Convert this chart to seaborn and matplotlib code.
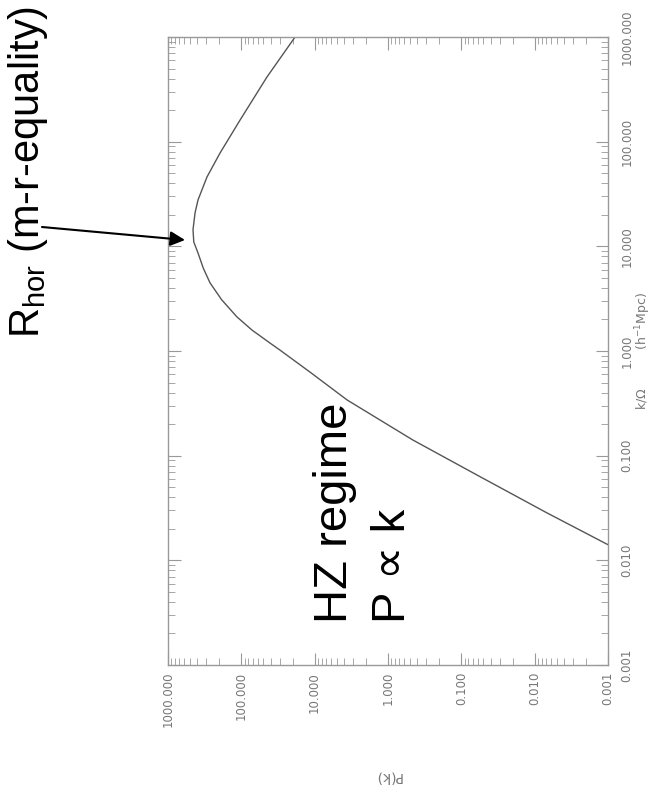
import matplotlib
matplotlib.use("Agg")
import matplotlib.pyplot as plt
import seaborn as sns
import pandas as pd

# ---- data ----
k_vals = [1000, 415, 161, 78, 46, 27.7, 20.8, 14.4, 11.0, 8.65, 6.18, 4.47,
          3.08, 2.12, 1.59, 1.19, 1.02, 0.618, 0.34, 0.141, 0.063, 0.0284,
          0.0141]
p_vals = [18.5, 44.7, 104, 195, 294, 390, 428, 456, 445, 390, 330, 267,
          185, 115, 72, 40.6, 29.7, 11.2, 3.6, 0.457, 0.0556, 0.0068,
          0.001]

p_ticks = [1000, 100, 10, 1, 0.1, 0.01, 0.001]
p_tick_labels = ["1000.000", "100.000", "10.000", "1.000", "0.100", "0.010", "0.001"]
k_ticks = [1000, 100, 10, 1, 0.1, 0.01, 0.001]
k_tick_labels = ["1000.000", "100.000", "10.000", "1.000", "0.100", "0.010", "0.001"]

df = pd.DataFrame({"k": k_vals, "P": p_vals})

sns.set_theme(style="white")
plt.rcParams["font.family"] = ["Liberation Sans", "DejaVu Sans"]
plt.rcParams["mathtext.default"] = "regular"

W, H = 654, 792
fig = plt.figure(figsize=(W / 100, H / 100), dpi=100)
ax = fig.add_axes([168 / W, 1 - 665 / H, 440 / W, 628 / H])

sns.lineplot(data=df, x="P", y="k", sort=False, estimator=None,
             color="#555555", lw=1.0, ax=ax)

ax.set_xscale("log")
ax.set_yscale("log")
ax.set_xlim(1000, 0.001)
ax.set_ylim(0.001, 1000)

for s in ax.spines.values():
    s.set_color("#999999")
    s.set_linewidth(1.0)

ax.set_xticks(p_ticks)
ax.set_xticklabels(p_tick_labels)
ax.set_yticks(k_ticks)
ax.set_yticklabels(k_tick_labels)

ax.yaxis.tick_right()
ax.tick_params(which="both", direction="in", top=True, bottom=True,
               left=True, right=True, colors="#999999",
               labelcolor="#777777", labelsize=8.5,
               labelbottom=True, labeltop=False,
               labelleft=False, labelright=True,
               labelfontfamily="DejaVu Sans")
ax.tick_params(which="major", length=9, width=0.8)
ax.tick_params(which="minor", length=5, width=0.6)
ax.tick_params(axis="x", pad=5)
ax.tick_params(axis="y", pad=9)

for lab in ax.get_xticklabels():
    lab.set_rotation(90)
    lab.set_va("top")
    lab.set_ha("center")
for lab in ax.get_yticklabels():
    lab.set_rotation(90)
    lab.set_va("center")
    lab.set_ha("left")

ax.set_xlabel("P(k)", rotation=180, color="#777777", fontsize=10,
              family="DejaVu Sans", labelpad=30)
ax.yaxis.set_label_position("right")
ax.set_ylabel("k/\u03a9          (h$^{-1}$Mpc)", rotation=90, color="#777777",
              fontsize=9, family="DejaVu Sans", labelpad=0)

# ---- annotations ----
fig.text(347 / W, 1 - 623 / H, "HZ regime", rotation=90, rotation_mode="anchor",
         ha="left", va="baseline", fontsize=34, color="black")
fig.text(405 / W, 1 - 623 / H, "P \u221d k", rotation=90, rotation_mode="anchor",
         ha="left", va="baseline", fontsize=34, color="black")
fig.text(39 / W, 1 - 338 / H, "R$_{hor}$ (m-r-equality)", rotation=90,
         rotation_mode="anchor", ha="left", va="baseline", fontsize=30,
         color="black")

ax.annotate("", xy=(185 / W, 1 - 240 / H), xycoords="figure fraction",
            xytext=(42 / W, 1 - 227 / H), textcoords="figure fraction",
            arrowprops=dict(arrowstyle="-|>", color="black", lw=1.5,
                            mutation_scale=22, shrinkA=0, shrinkB=0))

fig.savefig("out.png", dpi=100)
